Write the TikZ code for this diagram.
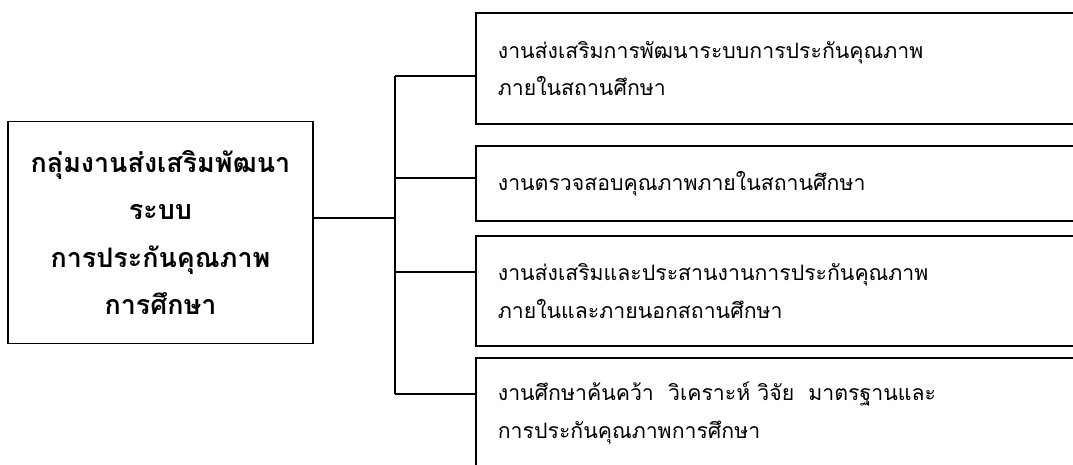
\documentclass[tikz,border=0pt]{standalone}
\usepackage{fontspec}
\newfontfamily\thaifont[Script=Thai]{Loma}
\usetikzlibrary{positioning}
\tikzset{
    group/.style={rectangle,draw,line width=1pt,minimum width=6.1cm,minimum height=4.44cm,align=center,
        font=\thaifont\bfseries\fontsize{15.3}{27}\selectfont},
    task/.style={rectangle,draw,line width=1pt,anchor=west,minimum width=12.4cm,text width=11.6cm,
        inner sep=0.44cm,align=left,font=\thaifont\fontsize{12.1}{21.5}\selectfont},
    link/.style={-,line width=1pt}
}
\begin{document}
\begin{tikzpicture}[x=0.02cm,y=-0.02cm]

                \useasboundingbox (0,0) rectangle (1073,465);

                \node[group] (group) at (160.5,232.5) {กลุ่มงานส่งเสริมพัฒนา\\ระบบ\\การประกันคุณภาพ\\การศึกษา};

                \node[task,minimum height=2.22cm] (task 1) at (475,68.5)  {งานส่งเสริมการพัฒนาระบบการประกันคุณภาพ\\ภายในสถานศึกษา};
                \node[task,minimum height=1.5cm]  (task 2) at (475,183.5) {งานตรวจสอบคุณภาพภายในสถานศึกษา};
                \node[task,minimum height=2.2cm]  (task 3) at (475,291) {งานส่งเสริมและประสานงานการประกันคุณภาพ\\ภายในและภายนอกสถานศึกษา};
                \node[task,minimum height=2.2cm]  (task 4) at (475,413) {งานศึกษาค้นคว้า\ \ วิเคราะห์ วิจัย\ \ มาตรฐานและ\\การประกันคุณภาพการศึกษา};

                % branch points on the trunk
                \coordinate (hub) at (395,218);
                \coordinate (fork 1) at (395,76);
                \coordinate (fork 2) at (395,178);
                \coordinate (fork 3) at (395,272);
                \coordinate (fork 4) at (395,394);

                \draw[link] (group.east |- hub) -- (hub);
                \draw[link] (fork 1) -- (fork 4);
                \draw[link] (fork 1) -- (fork 1 -| task 1.west);
                \draw[link] (fork 2) -- (fork 2 -| task 2.west);
                \draw[link] (fork 3) -- (fork 3 -| task 3.west);
                \draw[link] (fork 4) -- (fork 4 -| task 4.west);

            \end{tikzpicture}
\end{document}
